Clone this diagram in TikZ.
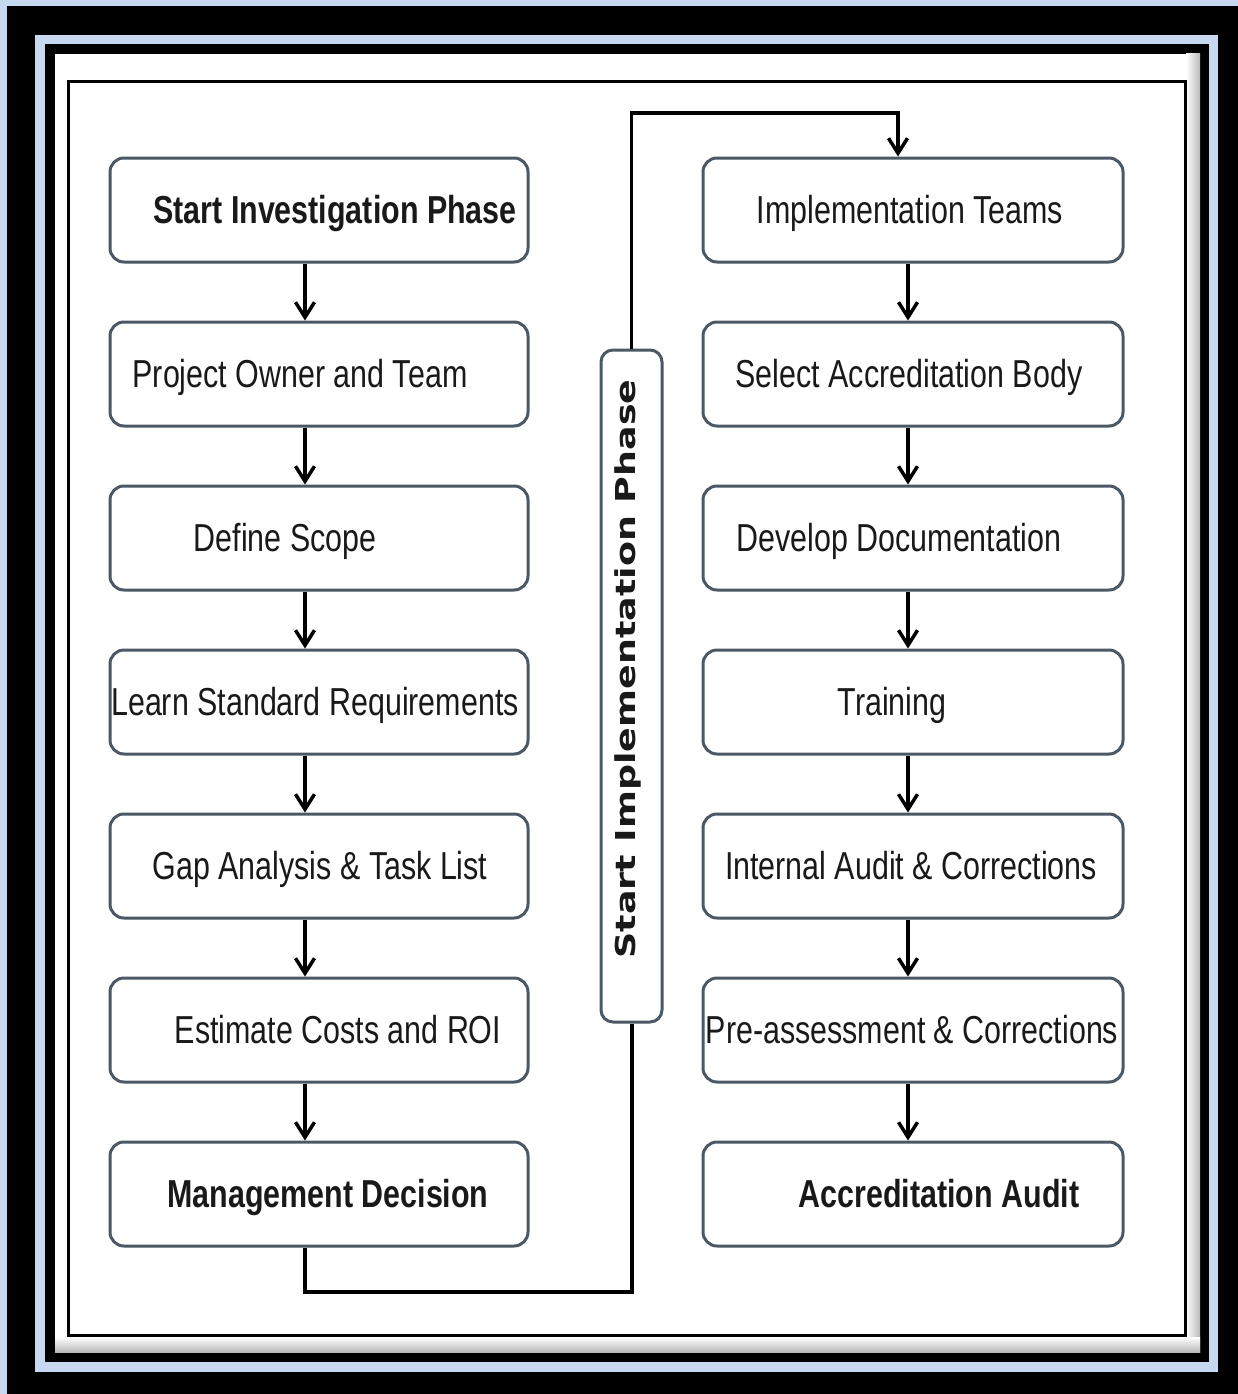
\documentclass[tikz,border=0pt]{standalone}
\usepackage{fontspec}
\usetikzlibrary{arrows.meta}
\newfontfamily\boxfont[FakeStretch=0.78]{Liberation Sans}
\newfontfamily\phasefont[FakeStretch=1.33]{DejaVu Sans}
\definecolor{frameblue}{HTML}{C6D9F0}
\definecolor{edgegray}{HTML}{4B5966}

\begin{document}
\begin{tikzpicture}[x=1pt,y=-1pt,
  stepbox/.style={draw=edgegray,line width=3pt,rounded corners=14pt,fill=white,
    minimum width=418pt,minimum height=104pt,inner sep=0pt},
  steptext/.style={anchor=base,inner sep=0pt,text=black!90,font=\boxfont\fontsize{39}{40}\selectfont},
  phasebox/.style={stepbox,rounded corners=12pt,minimum width=61pt,minimum height=672pt},
  flow/.style={-{Straight Barb[length=15pt,width=19pt,line width=3.5pt]},line width=3.5pt},
  link/.style={line width=4pt}]
  \useasboundingbox (0,0) rectangle (1238,1394);
  % frame
  \fill[frameblue] (0,0) rectangle (1238,1394);
  \fill[black] (7,6) rectangle (1238,1394);
  \fill[frameblue] (35,35) rectangle (1218,1372);
  \fill[black] (45,44) rectangle (1209,1362);
  \fill[white] (55,54) rectangle (1200,1352);
  \shade[left color=white,right color=gray!55] (1186,54) rectangle (1200,1352);
  \shade[top color=white,bottom color=gray!55] (55,1337) rectangle (1200,1352);
  \draw[line width=3pt] (68,82) rectangle (1185,1335);

  % investigation phase
  \foreach \n/\y/\tx/\txt in {
    1/210/335/{\bfseries Start Investigation Phase},
    2/374/300/{Project Owner and Team},
    3/538/285/{Define Scope},
    4/702/315/{Learn Standard Requirements},
    5/866/320/{Gap Analysis \& Task List},
    6/1030/338/{Estimate Costs and ROI},
    7/1194/328/{\bfseries Management Decision}} {
    \node[stepbox] (l\n) at (319,\y) {};
    \node[steptext] (lt\n) at (\tx,\y+13) {\txt};
  }
  % implementation phase
  \foreach \n/\y/\tx/\txt in {
    1/210/910/{Implementation Teams},
    2/374/909/{Select Accreditation Body},
    3/538/899/{Develop Documentation},
    4/702/892/{Training},
    5/866/911/{Internal Audit \& Corrections},
    6/1030/912/{Pre-assessment \& Corrections},
    7/1194/939/{\bfseries Accreditation Audit}} {
    \node[stepbox,minimum width=420pt] (r\n) at (913,\y) {};
    \node[steptext] (rt\n) at (\tx,\y+13) {\txt};
  }

  \coordinate (lx) at (305,0);
  \coordinate (rx) at (908,0);
  \coordinate (top) at (0,113);
  \coordinate (tx) at (898,0);
  \foreach \n [count=\m from 2] in {1,...,6} {
    \draw[flow] (l\n.south -| lx) -- (l\m.north -| lx);
    \draw[flow] (r\n.south -| rx) -- (r\m.north -| rx);
  }

  \node[phasebox] (ph) at (631.5,686) {};
  \node[rotate=90,anchor=base,inner sep=0pt,text=black!90,
    font=\phasefont\bfseries\fontsize{27.4}{28}\selectfont] (pht) at (635,669) {Start Implementation Phase};

  \draw[link] (l7.south -| lx) -- ++(0,44) -| (ph.south);
  \draw[link,flow] (ph.north) -- (ph.north |- top) -| (r1.north -| tx);
\end{tikzpicture}
\end{document}
